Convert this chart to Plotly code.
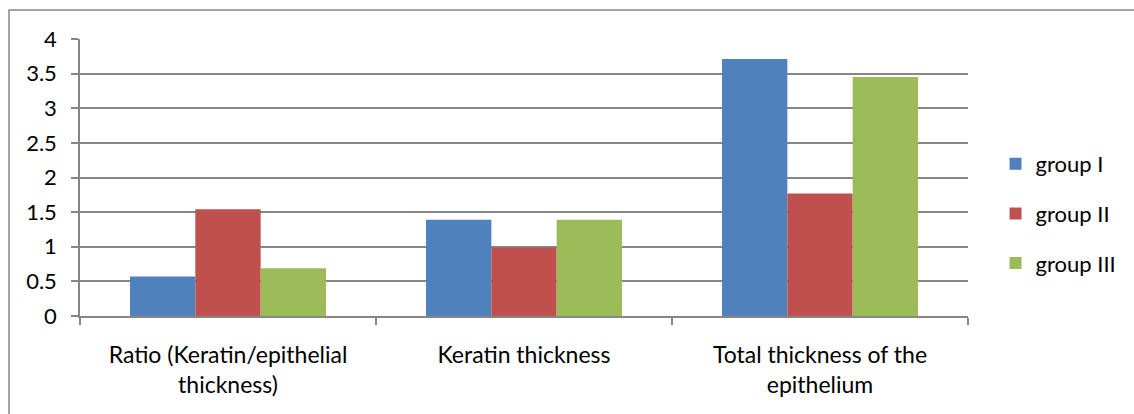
import plotly.graph_objects as go

# Chart data
categories = [
    "Ratio (Keratin/epithelial<br>thickness)",
    "Keratin thickness",
    "Total thickness of the<br>epithelium",
]
group_names = ["group I", "group II", "group III"]
group_i = [0.57, 1.39, 3.71]
group_ii = [1.54, 0.99, 1.77]
group_iii = [0.69, 1.39, 3.45]
y_ticks = [0, 0.5, 1, 1.5, 2, 2.5, 3, 3.5, 4]

colors = ["#4F81BD", "#C0504D", "#9BBB59"]
FONT = "Lato, Open Sans, sans-serif"

W, H = 1134, 414
L, R, T, B = 80, 166, 39, 98

fig = go.Figure()
for name, vals, col in zip(group_names, [group_i, group_ii, group_iii], colors):
    fig.add_trace(go.Bar(
        x=categories, y=vals, name=name, legendgroup=name,
        marker=dict(color=col, line=dict(width=0)),
    ))

fig.update_layout(
    width=W, height=H,
    margin=dict(l=L, r=R, t=T, b=B),
    paper_bgcolor="white", plot_bgcolor="white",
    barmode="group", bargap=0.338, bargroupgap=0,
    font=dict(family=FONT, size=22, color="#000000"),
    legend=dict(
        x=1.031, xanchor="left", y=0.37, yanchor="middle",
        font=dict(size=22, color="#000000"),
        tracegroupgap=18, bgcolor="rgba(0,0,0,0)",
    ),
    xaxis=dict(
        showline=True, linecolor="#868686", linewidth=1.5,
        ticks="outside", tickson="boundaries", ticklen=7,
        tickcolor="#868686", tickwidth=1.5,
        tickfont=dict(size=23, family=FONT),
        ticklabelstandoff=18,
        showgrid=False,
    ),
    yaxis=dict(
        range=[0, 4], tickvals=y_ticks,
        showline=True, linecolor="#868686", linewidth=1.5,
        ticks="outside", ticklen=7, tickcolor="#868686", tickwidth=1.5,
        showgrid=True, gridcolor="#878787", gridwidth=1.5,
        zeroline=False,
        tickfont=dict(size=22, family=FONT),
        ticklabelstandoff=10,
    ),
)

# Outer chart frame (left and top edges visible)
pw = W - L - R
ph = H - T - B
fx0 = (9 - L) / pw
fy1 = (H - B - 10) / ph
fig.add_shape(type="rect", xref="paper", yref="paper",
              x0=fx0, x1=(W + 20 - L) / pw, y0=-(B + 20) / ph, y1=fy1,
              line=dict(color="#868686", width=1.5), layer="below")

fig.write_html("out.html")
